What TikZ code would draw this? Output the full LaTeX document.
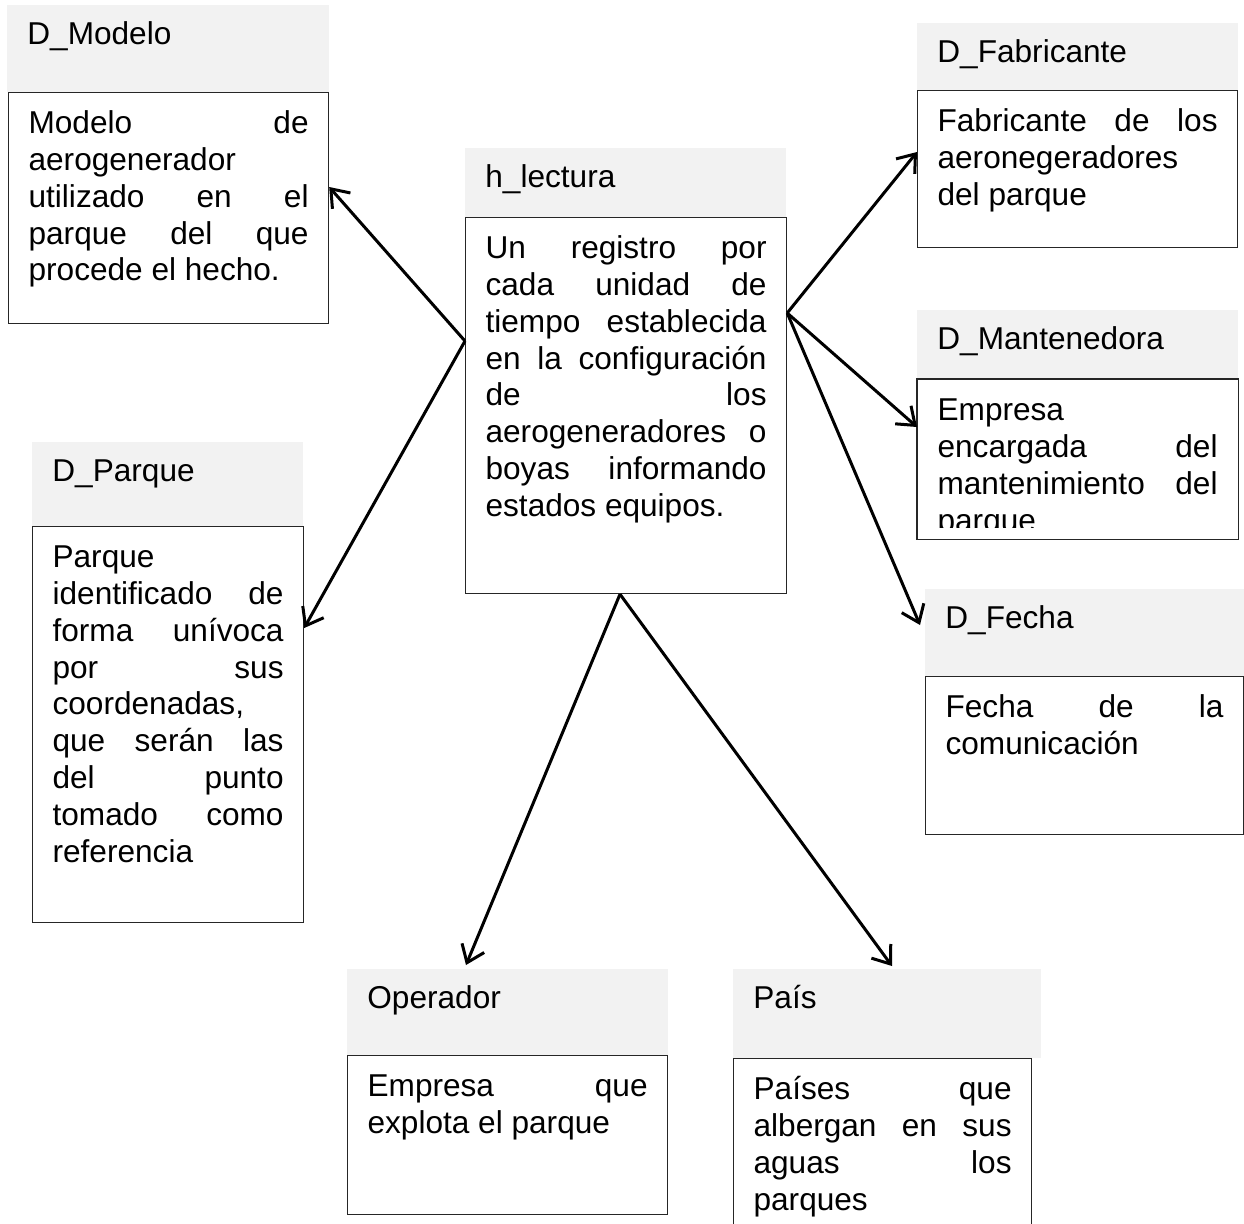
\documentclass[tikz,border=0pt]{standalone}
\usepackage{fontspec}
\setmainfont{Liberation Sans}
\usetikzlibrary{arrows.meta}
\definecolor{hdrgray}{RGB}{242,242,242}
\tolerance=10000
\hbadness=10000
\hyphenpenalty=10000
\exhyphenpenalty=10000

\begin{document}
\begin{tikzpicture}[x=0.5pt,y=-0.5pt]
  \tikzstyle{every node}=[font=\fontsize{15.8}{18.4}\selectfont]
  \tikzstyle{hdr}=[fill=hdrgray,anchor=north west,inner xsep=10pt,inner ysep=0pt,text height=19.5pt]
  \tikzstyle{frame}=[draw=black!85,line width=0.6pt]
  \tikzstyle{body}=[frame,anchor=north west,align=justify,inner xsep=10pt,inner ysep=0pt,text height=20.5pt]
  \tikzstyle{link}=[line width=1.5pt,-{Straight Barb[length=8pt,width=12pt]}]
  \path[use as bounding box,clip] (0,0) rectangle (1244,1223);

  % D_Modelo
  \node[hdr,text width=141pt,text depth=24pt] (modhdr) at (7,5) {D\_Modelo};
  \node[body,text width=140pt,text depth=95pt] (modbody) at (8,92)
    {Modelo~de\linebreak aerogenerador\linebreak utilizado~en~el\linebreak
     parque~del~que\linebreak procede el hecho.};

  % h_lectura
  \node[hdr,text width=140.5pt,text depth=15pt] (lechdr) at (465,148) {h\_lectura};
  \node[body,text width=140.5pt,text depth=167.5pt] (lecbody) at (465,217)
    {Un~registro~por\linebreak cada~unidad~de\linebreak tiempo~establecida\linebreak
     en~la~configuración\linebreak de~los\linebreak aerogeneradores~o\linebreak
     boyas~informando\linebreak estados equipos.};

  % D_Fabricante
  \node[hdr,text width=140.5pt,text depth=14pt] (fabhdr) at (917,23) {D\_Fabricante};
  \node[body,text width=140pt,text depth=58pt] (fabbody) at (917,90)
    {Fabricante~de~los\linebreak aeronegeradores\linebreak del parque};

  % D_Mantenedora
  \node[hdr,text width=140.5pt,text depth=15pt] (manhdr) at (917,310) {D\_Mantenedora};
  \begin{scope}
    \clip (917,379) rectangle (1238,527);
    \node[body,draw=none,text width=140pt,text depth=59pt] (manbody) at (917,379)
      {Empresa\linebreak encargada~del\linebreak mantenimiento~del\linebreak parque};
  \end{scope}
  \draw[frame] (manbody.north west) rectangle (manbody.south east);

  % D_Parque
  \node[hdr,text width=115.5pt,text depth=22.5pt] (parhdr) at (32,442) {D\_Parque};
  \node[body,text width=115.5pt,text depth=177.5pt] (parbody) at (32,526)
    {Parque\linebreak identificado~de\linebreak forma~unívoca\linebreak por~sus\linebreak
     coordenadas,\linebreak que~serán~las\linebreak del~punto\linebreak
     tomado~como\linebreak referencia};

  % D_Fecha
  \node[hdr,text width=140pt,text depth=24pt] (fechdr) at (925,589) {D\_Fecha};
  \node[body,text width=139pt,text depth=58.5pt] (fecbody) at (925,676)
    {Fecha~de~la\linebreak comunicación};

  % Operador
  \node[hdr,text width=140.5pt,text depth=23.5pt] (ophdr) at (347,969) {Operador};
  \node[body,text width=140pt,text depth=59pt] (opbody) at (347,1055)
    {Empresa~que\linebreak explota el parque};

  % Pais
  \node[hdr,text width=134pt,text depth=25pt] (paihdr) at (733,969) {País};
  \node[body,text width=129pt,text depth=70.5pt] (paibody) at (733,1058)
    {Países~que\linebreak albergan~en~sus\linebreak aguas~los\linebreak parques};

  % arrows from h_lectura
  \coordinate (lw) at ([yshift=-62pt]lecbody.north west);
  \coordinate (le) at ([yshift=-48pt]lecbody.north east);
  \coordinate (ls) at ([xshift=77.5pt]lecbody.south west);
  \draw[link] (lw) -- ([yshift=-47.5pt]modbody.north east);
  \draw[link] (lw) -- ([yshift=-51pt]parbody.north east);
  \draw[link] (le) -- ([yshift=-31pt]fabbody.north west);
  \draw[link] (le) -- ([yshift=-24pt]manbody.north west);
  \draw[link] (le) -- ([xshift=-2.5pt,yshift=-18pt]fechdr.north west);
  \draw[link] (ls) -- ([xshift=59.5pt,yshift=2pt]ophdr.north west);
  \draw[link] (ls) -- ([xshift=79.5pt,yshift=1.5pt]paihdr.north west);
\end{tikzpicture}
\end{document}
